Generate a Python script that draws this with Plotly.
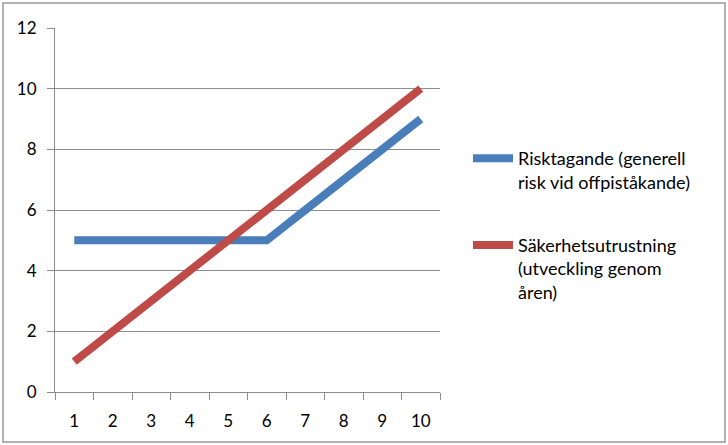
import plotly.graph_objects as go

categories = [1, 2, 3, 4, 5, 6, 7, 8, 9, 10]
risk_values = [5, 5, 5, 5, 5, 5, 6, 7, 8, 9]
safety_values = [1, 2, 3, 4, 5, 6, 7, 8, 9, 10]
y_ticks = [0, 2, 4, 6, 8, 10, 12]
series_names = ["Risktagande (generell<br>risk vid offpiståkande)",
                "Säkerhetsutrustning<br>(utveckling genom<br>åren)"]

BLUE = "#4A7EBB"
RED = "#BE4B48"
GRID = "#8C8C8C"
FONT = "Lato"

fig = go.Figure()
fig.add_trace(go.Scatter(x=[str(c) for c in categories], y=risk_values, mode="lines",
                         name=series_names[0], legendgroup="a",
                         line=dict(color=BLUE, width=8)))
fig.add_trace(go.Scatter(x=[str(c) for c in categories], y=safety_values, mode="lines",
                         name=series_names[1], legendgroup="b",
                         line=dict(color=RED, width=8)))

L, R, T, B = 55, 288, 28, 53
W, H = 728, 445
pw, ph = W - L - R, H - T - B

def px_x(p):
    return (p - L) / pw

def px_y(p):
    return (H - B - p) / ph

fig.update_layout(
    width=W, height=H,
    margin=dict(l=L, r=R, t=T, b=B, pad=0),
    paper_bgcolor="white", plot_bgcolor="white",
    font=dict(family=FONT, size=17, color="#000000"),
    showlegend=True,
    legend=dict(x=px_x(468), y=px_y(140), xanchor="left", yanchor="top",
                font=dict(family=FONT, size=18, color="#000000"),
                valign="top", traceorder="grouped", tracegroupgap=37,
                bgcolor="rgba(0,0,0,0)", itemwidth=40),
    xaxis=dict(type="category", range=[-0.5, 9.5], showgrid=False, showline=True,
               linecolor=GRID, linewidth=1,
               ticks="outside", tickson="boundaries", ticklen=7, tickcolor=GRID,
               tickfont=dict(family=FONT, size=17), ticklabelstandoff=14,
               zeroline=False, fixedrange=True),
    yaxis=dict(range=[0, 12], tickvals=y_ticks, showgrid=True, gridcolor=GRID, gridwidth=1,
               showline=True, linecolor=GRID, linewidth=1, ticks="outside", ticklen=7,
               tickcolor=GRID, tickfont=dict(family=FONT, size=17), ticklabelstandoff=7,
               zeroline=False, fixedrange=True),
    shapes=[dict(type="rect", xref="paper", yref="paper",
                 x0=px_x(3), x1=px_x(725), y0=px_y(442), y1=px_y(3),
                 line=dict(color="#999999", width=1.5), layer="above")],
)

fig.write_html("out.html", config={"displayModeBar": False},
               post_script="document.body.style.margin='0';")
